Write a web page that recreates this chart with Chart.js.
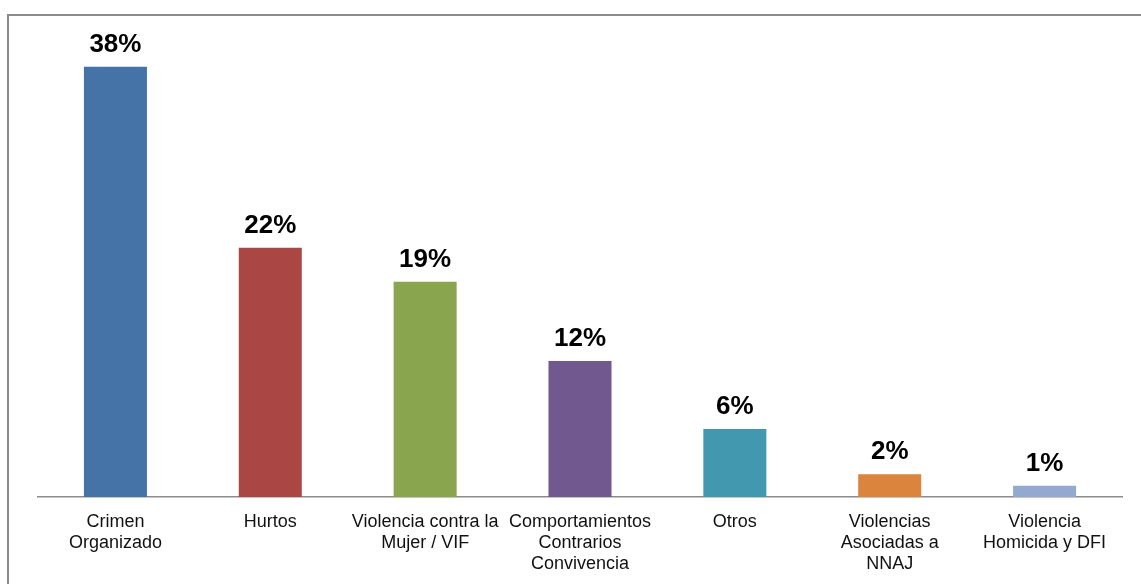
<!DOCTYPE html>
<html>
<head>
<meta charset="utf-8">
<script src="https://cdn.jsdelivr.net/npm/chart.js@4"></script>
<style>
  html, body { margin: 0; padding: 0; background: #fff; overflow: hidden; }
  #wrap { position: relative; width: 1141px; height: 584px; }
  #frame { position: absolute; left: 7px; top: 14px; width: 1200px; height: 700px;
           border: 2px solid #8c8c8c; box-sizing: border-box; }
  canvas { position: absolute; left: 0; top: 0; }
</style>
</head>
<body>
<div id="wrap">
  <div id="frame"></div>
  <canvas id="chart" width="1141" height="584"></canvas>
</div>
<script>
// categories, one label line per array entry
const categories = [
    ["Crimen", "Organizado"],
    ["Hurtos"],
    ["Violencia contra la", "Mujer / VIF"],
    ["Comportamientos", "Contrarios", "Convivencia"],
    ["Otros"],
    ["Violencias", "Asociadas a", "NNAJ"],
    ["Violencia", "Homicida y DFI"]
];
const shares = [38, 22, 19, 12, 6, 2, 1];
const barColors = ["#4572A7", "#AA4643", "#89A54E", "#71588F", "#4198AF", "#DB843D", "#93A9CF"];

const valueLabels = {
    id: "valueLabels",
    afterDatasetsDraw(chart){
        const ctx = chart.ctx;
        const meta = chart.getDatasetMeta(0);
        ctx.save();
        ctx.font = "bold 26px 'Liberation Sans', Arial, sans-serif";
        ctx.fillStyle = "#000";
        ctx.textAlign = "center";
        ctx.textBaseline = "alphabetic";
        meta.data.forEach(function(bar, i){
            ctx.fillText(shares[i] + "%", bar.x, bar.y - 15);
        });
        ctx.restore();
    }
};

new Chart(document.getElementById("chart").getContext("2d"), {
    type: "bar",
    data: {
        labels: categories,
        datasets: [{
            data: shares,
            backgroundColor: barColors,
            barPercentage: 0.407,
            categoryPercentage: 1
        }]
    },
    options: {
        responsive: false,
        animation: false,
        events: [],
        layout: { padding: { left: 38, right: 19, top: 44, bottom: 0 } },
        plugins: { legend: { display: false }, tooltip: { enabled: false } },
        scales: {
            x: {
                grid: { display: false },
                border: { display: true, color: "#8c8c8c", width: 1.5 },
                ticks: {
                    autoSkip: false,
                    maxRotation: 0,
                    padding: 7,
                    color: "#111",
                    font: { family: "'Liberation Sans', Arial, sans-serif", size: 18, lineHeight: "21px" }
                },
                afterFit(scale){ scale.height = 87; }
            },
            y: {
                display: false,
                min: 0,
                max: 40
            }
        }
    },
    plugins: [valueLabels]
});
</script>
</body>
</html>
